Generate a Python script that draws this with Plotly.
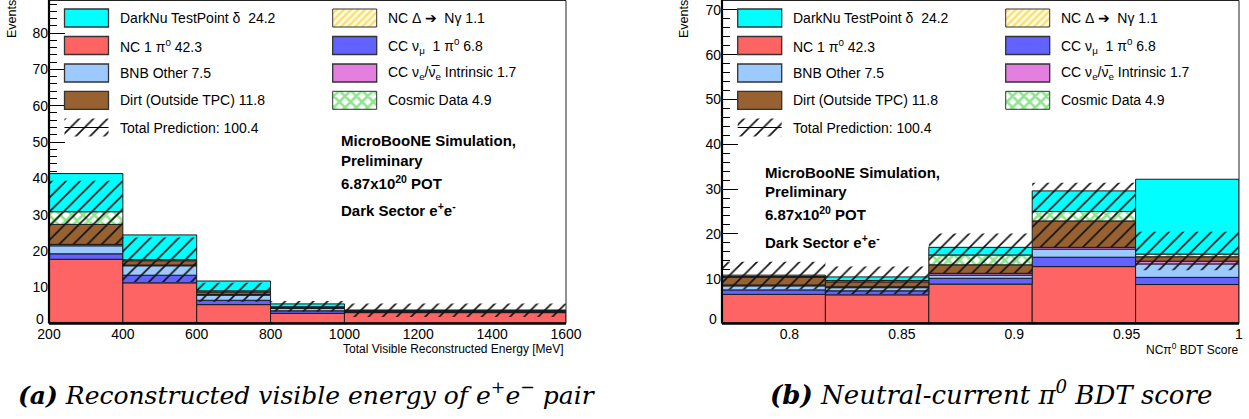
import numpy as np
import plotly.graph_objects as go

W, H = 1249, 419

# ---------------- data : panel (a) reconstructed visible energy ----------------
energy_edges = [200, 400, 600, 800, 1000, 1600]
e_nc_delta  = [0.3, 0.3, 0.2, 0.1, 0.1]
e_nc_pi0    = [17.4, 10.9, 5.0, 2.7, 2.9]
e_cc_numu   = [1.5, 2.1, 1.2, 0.7, 0.2]
e_bnb_other = [2.2, 2.6, 1.4, 0.7, 0.2]
e_cc_nue    = [0.4, 0.2, 0.2, 0.1, 0.05]
e_dirt      = [5.5, 1.2, 0.7, 0.2, 0.1]
e_cosmic    = [3.5, 0.3, 0.3, 0.1, 0.05]
e_darknu    = [10.5, 6.8, 2.7, 0.8, 0.1]
e_band_lo   = [21.8, 11.4, 6.0, 3.3, 1.8]
e_band_hi   = [39.3, 23.7, 11.2, 6.2, 5.5]
energy_ticks = [200, 400, 600, 800, 1000, 1200, 1400, 1600]
energy_yticks = [0, 10, 20, 30, 40, 50, 60, 70, 80]

# ---------------- data : panel (b) NC pi0 BDT score ----------------
bdt_edges = [0.770, 0.816, 0.862, 0.908, 0.954, 1.000]
b_nc_delta  = [0.2, 0.2, 0.2, 0.2, 0.2]
b_nc_pi0    = [6.3, 6.2, 8.6, 12.5, 8.5]
b_cc_numu   = [1.0, 0.9, 1.3, 2.1, 1.6]
b_bnb_other = [0.9, 0.7, 0.7, 1.8, 3.0]
b_cc_nue    = [0.2, 0.2, 0.4, 0.4, 0.6]
b_dirt      = [1.7, 1.1, 1.9, 5.9, 1.0]
b_cosmic    = [0.2, 0.3, 2.2, 2.1, 0.6]
b_darknu    = [0.3, 0.8, 1.7, 4.6, 16.7]
b_band_lo   = [7.6, 6.6, 11.2, 17.0, 11.9]
b_band_hi   = [13.8, 12.7, 20.1, 31.4, 20.5]
bdt_ticks = [0.8, 0.85, 0.9, 0.95, 1.0]
bdt_ticktext = ["0.8", "0.85", "0.9", "0.95", "1"]
bdt_yticks = [0, 10, 20, 30, 40, 50, 60, 70]

# legend labels
leg_col1 = ["DarkNu TestPoint δ  24.2", "NC 1 π<sup>0</sup> 42.3", "BNB Other 7.5",
            "Dirt (Outside TPC) 11.8", "Total Prediction: 100.4"]
leg_col2 = ["NC Δ ➔  Nγ 1.1", "CC ν<sub>μ</sub>  1 π<sup>0</sup> 6.8",
            "CC ν<sub>e</sub>/ν̅<sub>e</sub> Intrinsic 1.7", "Cosmic Data 4.9"]

# ---------------- styles ----------------
OUT = "#1a1a1a"
STY = {
    "nc_delta": dict(color="white", line=dict(width=0),
                     pattern=dict(shape="/", fgcolor="#f2c200", bgcolor="#fffbe0", size=5, solidity=0.45)),
    "nc_pi0":   dict(color="#ff6464", line=dict(width=1, color=OUT)),
    "cc_numu":  dict(color="#6262ff", line=dict(width=1, color=OUT)),
    "bnb":      dict(color="#9ccaff", line=dict(width=1, color=OUT)),
    "cc_nue":   dict(color="#e47fe0", line=dict(width=1, color=OUT)),
    "dirt":     dict(color="#976131", line=dict(width=1, color=OUT)),
    "cosmic":   dict(color="white", line=dict(width=1, color=OUT),
                     pattern=dict(shape="x", fgcolor="#1ccc1c", bgcolor="white", size=8, solidity=0.55)),
    "darknu":   dict(color="#00ffff", line=dict(width=1, color=OUT)),
    "band":     dict(color="rgba(0,0,0,0)", line=dict(width=0),
                     pattern=dict(shape="/", fgcolor="#111111", bgcolor="rgba(0,0,0,0)", size=10,
                                  solidity=0.17, fillmode="replace")),
}

FONT = "Liberation Sans, Arial, Helvetica, sans-serif"
fig = go.Figure()


def add_panel(edges, comps, lo, hi, xa, ya):
    e = np.asarray(edges, float)
    c = (e[:-1] + e[1:]) / 2
    w = np.diff(e)
    base = np.zeros(len(c))
    for key, vals in comps:
        v = np.asarray(vals, float)
        fig.add_bar(x=c, y=v, base=base.copy(), width=w, xaxis=xa, yaxis=ya,
                    marker=STY[key], showlegend=False, hoverinfo="skip")
        base += v
    lo = np.asarray(lo, float)
    hi = np.asarray(hi, float)
    fig.add_bar(x=c, y=hi - lo, base=lo, width=w, xaxis=xa, yaxis=ya,
                marker=STY["band"], showlegend=False, hoverinfo="skip")


add_panel(energy_edges,
          [("nc_delta", e_nc_delta), ("nc_pi0", e_nc_pi0), ("cc_numu", e_cc_numu),
           ("bnb", e_bnb_other), ("cc_nue", e_cc_nue), ("dirt", e_dirt),
           ("cosmic", e_cosmic), ("darknu", e_darknu)],
          e_band_lo, e_band_hi, "x", "y")
add_panel(bdt_edges,
          [("nc_delta", b_nc_delta), ("nc_pi0", b_nc_pi0), ("cc_numu", b_cc_numu),
           ("bnb", b_bnb_other), ("cc_nue", b_cc_nue), ("dirt", b_dirt),
           ("cosmic", b_cosmic), ("darknu", b_darknu)],
          b_band_lo, b_band_hi, "x2", "y2")

# ---------------- geometry (pixels) ----------------
Y0 = 323.5          # pixel row of y = 0
panels = [
    dict(x0=49, x1=566, col1=64.5, col2=332.7, txt=(339, [140, 160.5, 182, 209])),
    dict(x0=722, x1=1239, col1=737.7, col2=1005.7, txt=(763, [172.5, 191.5, 213.5, 241])),
]
rows = [18, 45.5, 73, 100.3, 127.5]
SW, SH = 44, 18

ann = []
shapes = []

def px(x):
    return x / W

for p in panels:
    keys1 = ["darknu", "nc_pi0", "bnb", "dirt", "band"]
    keys2 = ["nc_delta", "cc_numu", "cc_nue", "cosmic"]
    for col, keys, labels in ((p["col1"], keys1, leg_col1), (p["col2"], keys2, leg_col2)):
        for r, k, lab in zip(rows, keys, labels):
            mk = dict(STY[k])
            if k in ("nc_delta", "cosmic"):
                mk = dict(mk, line=dict(width=1, color="#333"))
            elif k != "band":
                mk = dict(mk, line=dict(width=1.3, color="#333"))
            fig.add_bar(x=[col + SW / 2], y=[SH], base=[r - SH / 2], width=[SW],
                        xaxis="x3", yaxis="y3", marker=mk, showlegend=False, hoverinfo="skip")
            if k == "band":
                shapes.append(dict(type="line", xref="x3", yref="y3", x0=col, x1=col + SW,
                                   y0=r, y1=r, line=dict(color="black", width=1.2)))
            ann.append(dict(x=col + SW + 9, y=r, xref="x3", yref="y3", text=lab,
                            xanchor="left", yanchor="middle", showarrow=False,
                            font=dict(size=14, family=FONT, color="black")))
    tx, tys = p["txt"]
    for t, ty in zip(["MicroBooNE Simulation,", "Preliminary",
                      "6.87x10<sup>20</sup> POT", "Dark Sector e<sup>+</sup>e<sup>-</sup>"], tys):
        ann.append(dict(x=tx, y=ty, xref="x3", yref="y3", text="<b>" + t + "</b>",
                        xanchor="left", yanchor="middle", showarrow=False,
                        font=dict(size=15, family=FONT, color="black")))
    shapes.append(dict(type="rect", xref="x3", yref="y3", x0=p["x0"], x1=p["x1"],
                       y0=Y0, y1=0.5, line=dict(color="#222", width=1), layer="above"))
    shapes.append(dict(type="line", xref="x3", yref="y3", x0=p["x0"], x1=p["x0"],
                       y0=Y0, y1=0, line=dict(color="black", width=2.2), layer="above"))
    shapes.append(dict(type="line", xref="x3", yref="y3", x0=p["x0"], x1=p["x1"],
                       y0=Y0, y1=Y0, line=dict(color="black", width=2.5), layer="above"))
    # ROOT lifts the "0" label of the y axis above the x axis
    ann.append(dict(x=p["x0"] - 3, y=318.5, xref="x3", yref="y3", text="0",
                    xanchor="right", yanchor="middle", showarrow=False,
                    font=dict(size=14, family=FONT, color="black")))

ann.append(dict(x=566, y=349, xref="x3", yref="y3", text="Total Visible Reconstructed Energy [MeV]",
                xanchor="right", yanchor="middle", showarrow=False,
                font=dict(size=12, family=FONT, color="black")))
ann.append(dict(x=1240, y=349, xref="x3", yref="y3", text="NCπ<sup>0</sup> BDT Score",
                xanchor="right", yanchor="middle", showarrow=False,
                font=dict(size=12, family=FONT, color="black")))
for ex in (12, 684):
    ann.append(dict(x=ex, y=19, xref="x3", yref="y3", text="Events", textangle=-90,
                    xanchor="center", yanchor="middle", showarrow=False,
                    font=dict(size=12.5, family=FONT, color="black")))

CAP = "DejaVu Serif, Liberation Serif, serif"
ann.append(dict(x=307, y=393, xref="x3", yref="y3",
                text="<b><i>(a)</i></b> <i>Reconstructed visible energy of e<sup>+</sup>e<sup>−</sup> pair</i>",
                xanchor="center", yanchor="middle", showarrow=False,
                font=dict(size=25, family=CAP, color="black")))
ann.append(dict(x=991, y=393, xref="x3", yref="y3",
                text="<b><i>(b)</i></b> <i>Neutral-current π<sup>0</sup> BDT score</i>",
                xanchor="center", yanchor="middle", showarrow=False,
                font=dict(size=26, family=CAP, color="black")))


def ylabels(vals):
    return ["" if v == 0 else str(v) for v in vals]


ydom = [1 - Y0 / H, 1]
yax_common = dict(ticks="inside", ticklen=16, tickwidth=1, tickcolor="black",
                  minor=dict(ticks="inside", ticklen=8, tickwidth=1, tickcolor="black",
                             tickmode="linear", tick0=0, dtick=2),
                  showline=False, showgrid=False, zeroline=False, layer="below traces",
                  automargin=False,
                  tickfont=dict(size=14, family=FONT, color="black"), fixedrange=True)
xax_common = dict(ticks="", showline=False, showgrid=False, zeroline=False, automargin=False,
                  tickfont=dict(size=14, family=FONT, color="black"), fixedrange=True)

fig.update_layout(
    width=W, height=H, margin=dict(l=0, r=0, t=0, b=0, autoexpand=False),
    paper_bgcolor="white", plot_bgcolor="rgba(0,0,0,0)",
    barmode="overlay", showlegend=False,
    font=dict(family=FONT, color="black"),
    xaxis=dict(domain=[px(49), px(566)], range=[200, 1600], anchor="y",
               tickmode="array", tickvals=energy_ticks, **xax_common),
    yaxis=dict(domain=ydom, range=[0, Y0 / 36.3 * 10], anchor="x",
               tickmode="array", tickvals=energy_yticks, ticktext=ylabels(energy_yticks),
               **yax_common),
    xaxis2=dict(domain=[px(722), px(1239)], range=[bdt_edges[0], bdt_edges[-1]], anchor="y2",
                tickmode="array", tickvals=bdt_ticks, ticktext=bdt_ticktext, **xax_common),
    yaxis2=dict(domain=ydom, range=[0, Y0 / 44.8 * 10], anchor="x2",
                tickmode="array", tickvals=bdt_yticks, ticktext=ylabels(bdt_yticks),
                **yax_common),
    xaxis3=dict(domain=[0, 1], range=[0, W], anchor="y3", visible=False, fixedrange=True,
                automargin=False),
    yaxis3=dict(domain=[0, 1], range=[H, 0], anchor="x3", visible=False, fixedrange=True,
                automargin=False),
    annotations=ann, shapes=shapes,
)

fig.write_html("out.html", config={"displayModeBar": False, "staticPlot": True},
               post_script="document.body.style.margin='0';document.body.style.overflow='hidden';")
